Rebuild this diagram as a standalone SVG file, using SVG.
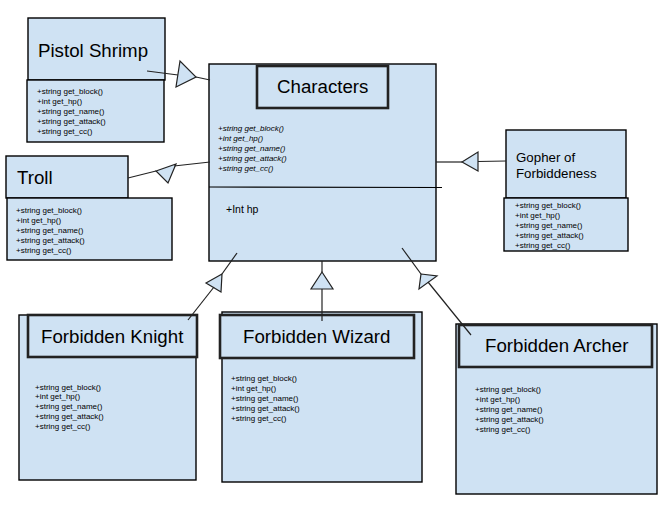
<svg xmlns="http://www.w3.org/2000/svg" width="669" height="509" viewBox="0 0 669 509">
<style>
  .box { fill: #cfe2f3; stroke: #000; stroke-width: 1.4; }
  .tbox { fill: #cfe2f3; stroke: #222; stroke-width: 2.6; }
  .title { font-family: "Liberation Sans", Arial, sans-serif; font-size: 18.7px; fill: #000; }
  .m { font-family: "Liberation Sans", Arial, sans-serif; font-size: 8px; fill: #000; }
  .mi { font-family: "Liberation Sans", Arial, sans-serif; font-size: 8px; font-style: italic; fill: #000; }
  .conn line { stroke: #222; stroke-width: 1.2; }
  .conn polygon { fill: #cfe2f3; stroke: #222; stroke-width: 1.2; stroke-linejoin: miter; }
</style>
<rect width="669" height="509" fill="#fff"/>

<g id="characters">
  <rect class="box" x="209" y="64" width="227" height="197"/>
  <rect class="tbox" x="257" y="66" width="131" height="42"/>
  <text class="title" x="277" y="92.5">Characters</text>
  <text class="mi" x="218" y="131">+string get_block()</text>
  <text class="mi" x="218" y="141">+int get_hp()</text>
  <text class="mi" x="218" y="151">+string get_name()</text>
  <text class="mi" x="218" y="161">+string get_attack()</text>
  <text class="mi" x="218" y="171">+string get_cc()</text>
  <line x1="209" y1="187" x2="442" y2="187.5" stroke="#000" stroke-width="1.2"/>
  <text x="226" y="213" font-family="Liberation Sans, Arial, sans-serif" font-size="10.5px">+Int hp</text>
</g>

<g id="pistol-shrimp">
  <rect class="box" x="28" y="18" width="137" height="62"/>
  <text class="title" x="38" y="57">Pistol Shrimp</text>
  <rect class="box" x="27" y="80" width="137" height="62"/>
  <text class="m" x="37" y="94">+string get_block()</text>
  <text class="m" x="37" y="104">+int get_hp()</text>
  <text class="m" x="37" y="114">+string get_name()</text>
  <text class="m" x="37" y="124">+string get_attack()</text>
  <text class="m" x="37" y="134">+string get_cc()</text>
</g>

<g id="troll">
  <rect class="box" x="6" y="156" width="122" height="42"/>
  <text class="title" x="17" y="184">Troll</text>
  <rect class="box" x="7" y="198" width="165" height="62"/>
  <text class="m" x="16" y="213">+string get_block()</text>
  <text class="m" x="16" y="223">+int get_hp()</text>
  <text class="m" x="16" y="233">+string get_name()</text>
  <text class="m" x="16" y="243">+string get_attack()</text>
  <text class="m" x="16" y="253">+string get_cc()</text>
</g>

<g id="gopher">
  <rect class="box" x="506" y="130" width="120" height="68"/>
  <text x="516" y="162" font-family="Liberation Sans, Arial, sans-serif" font-size="13.3px">Gopher of</text>
  <text x="516" y="178" font-family="Liberation Sans, Arial, sans-serif" font-size="13.3px">Forbiddeness</text>
  <rect class="box" x="504" y="198" width="124" height="53"/>
  <text class="m" x="515" y="208">+string get_block()</text>
  <text class="m" x="515" y="218">+int get_hp()</text>
  <text class="m" x="515" y="228">+string get_name()</text>
  <text class="m" x="515" y="238">+string get_attack()</text>
  <text class="m" x="515" y="248">+string get_cc()</text>
</g>

<g id="forbidden-knight">
  <rect class="box" x="19" y="315" width="177" height="165"/>
  <rect class="tbox" x="28" y="315" width="169" height="42"/>
  <text class="title" x="41" y="343">Forbidden Knight</text>
  <text class="m" x="35" y="390">+string get_block()</text>
  <text class="m" x="35" y="399">+int get_hp()</text>
  <text class="m" x="35" y="409">+string get_name()</text>
  <text class="m" x="35" y="419">+string get_attack()</text>
  <text class="m" x="35" y="429">+string get_cc()</text>
</g>

<g id="forbidden-wizard">
  <rect class="box" x="222" y="312" width="200" height="170"/>
  <rect class="tbox" x="220" y="315" width="194" height="43"/>
  <text class="title" x="243" y="343">Forbidden Wizard</text>
  <text class="m" x="231" y="381">+string get_block()</text>
  <text class="m" x="231" y="391">+int get_hp()</text>
  <text class="m" x="231" y="401">+string get_name()</text>
  <text class="m" x="231" y="411">+string get_attack()</text>
  <text class="m" x="231" y="421">+string get_cc()</text>
</g>

<g id="forbidden-archer">
  <rect class="box" x="456" y="324" width="201" height="170"/>
  <rect class="tbox" x="459" y="325" width="193" height="42"/>
  <text class="title" x="485" y="352">Forbidden Archer</text>
  <text class="m" x="475" y="392">+string get_block()</text>
  <text class="m" x="475" y="402">+int get_hp()</text>
  <text class="m" x="475" y="412">+string get_name()</text>
  <text class="m" x="475" y="422">+string get_attack()</text>
  <text class="m" x="475" y="432">+string get_cc()</text>
</g>

<g id="connectors" class="conn">
  <!-- Pistol Shrimp -->
  <line x1="147" y1="71" x2="178" y2="75"/>
  <polygon points="180,61 176,87 196,77"/>
  <line x1="196" y1="77" x2="210" y2="80"/>
  <!-- Troll -->
  <line x1="128" y1="178" x2="156" y2="171"/>
  <polygon points="156,171 176,164 168,183"/>
  <line x1="174" y1="166" x2="210" y2="162"/>
  <!-- Gopher -->
  <line x1="436" y1="162" x2="462" y2="162"/>
  <polygon points="462,162 478,152 478,171"/>
  <line x1="478" y1="161.5" x2="506" y2="161"/>
  <!-- Knight -->
  <line x1="237" y1="253" x2="222" y2="274"/>
  <polygon points="222,274 206,283 221,292"/>
  <line x1="214" y1="287" x2="188" y2="320"/>
  <!-- Wizard -->
  <line x1="322" y1="261" x2="322" y2="272"/>
  <polygon points="322,272 311,289 333,289"/>
  <line x1="322" y1="289" x2="322" y2="321"/>
  <!-- Archer -->
  <line x1="402" y1="248" x2="421" y2="274"/>
  <polygon points="421,274 437,276 419,289"/>
  <line x1="428" y1="282" x2="471" y2="335"/>
</g>
</svg>
